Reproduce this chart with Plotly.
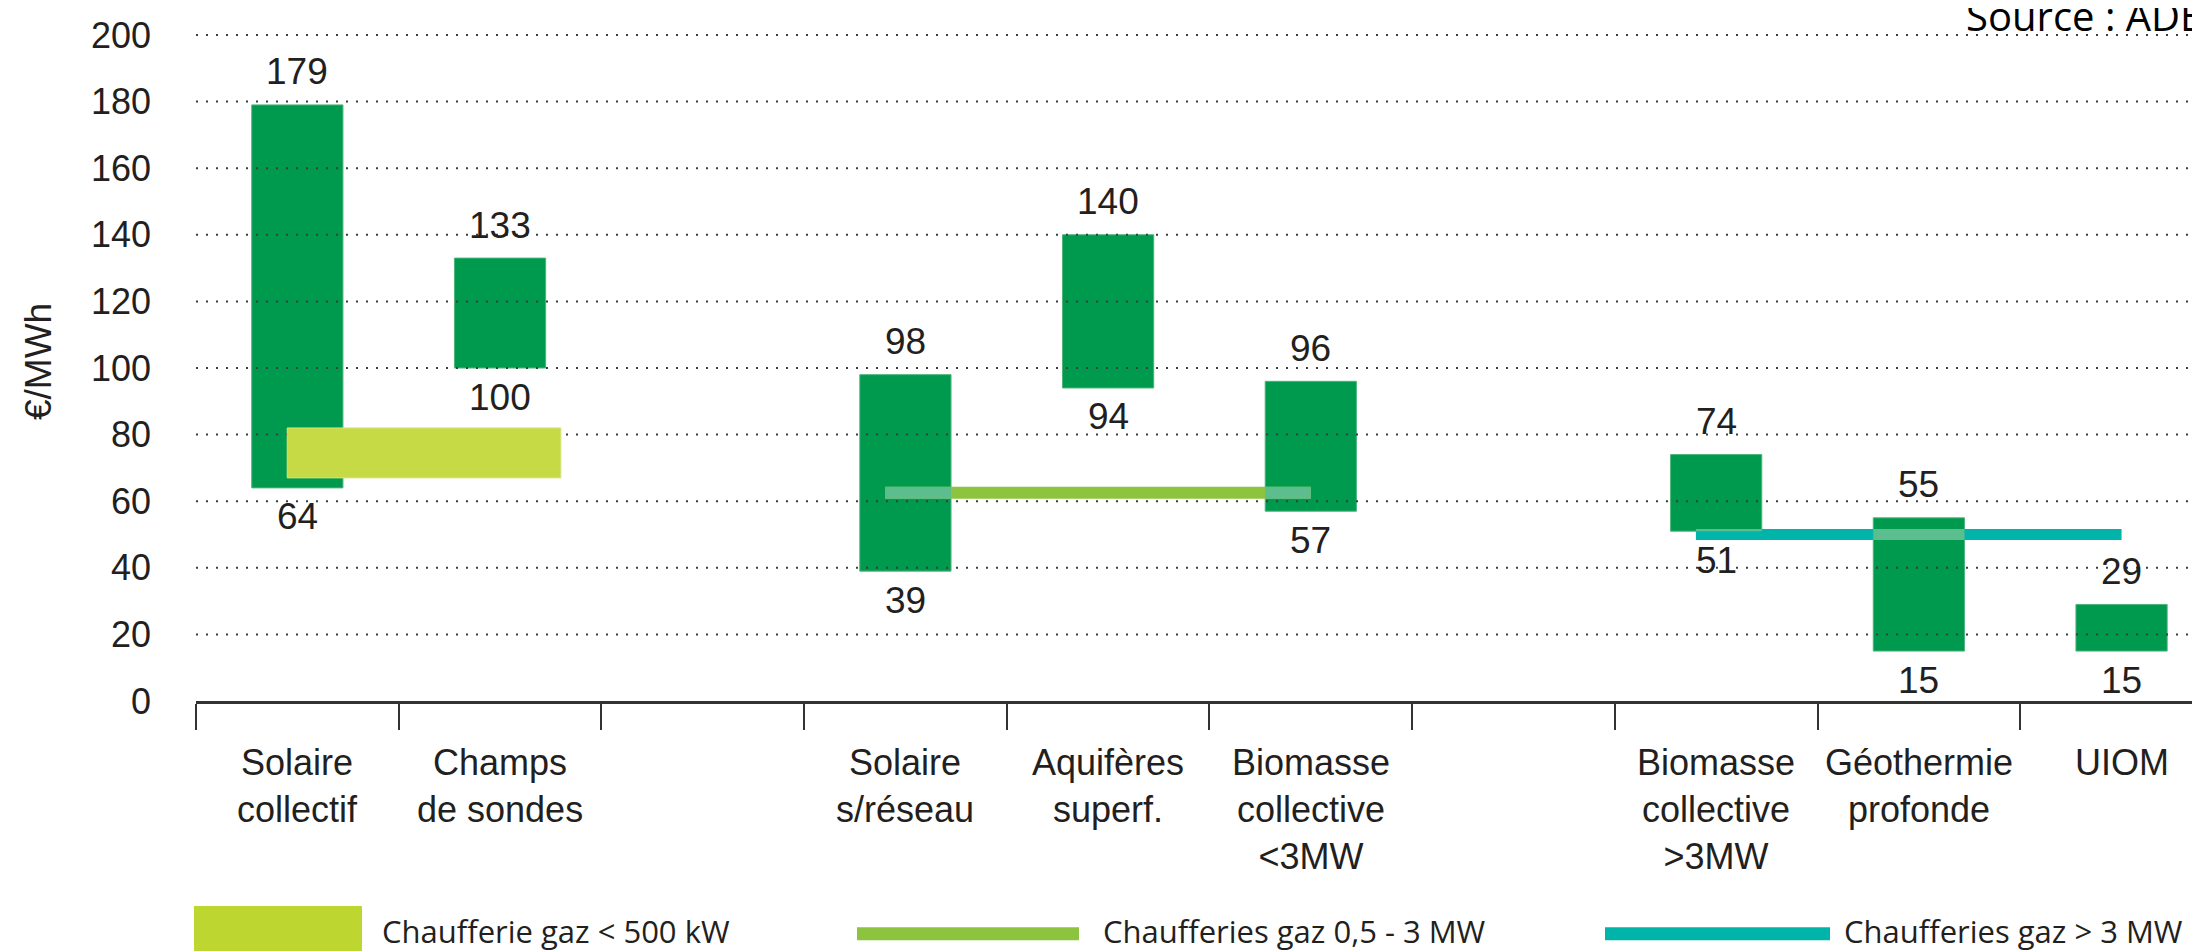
import plotly.graph_objects as go

# ---------------- data ----------------
categories = ["Solaire<br>collectif", "Champs<br>de sondes", "",
              "Solaire<br>s/réseau", "Aquifères<br>superf.", "Biomasse<br>collective<br>&lt;3MW",
              "", "Biomasse<br>collective<br>&gt;3MW", "Géothermie<br>profonde", "UIOM"]
cost_low = [64, 100, None, 39, 94, 57, None, 51, 15, 15]
cost_high = [179, 133, None, 98, 140, 96, None, 74, 55, 29]

gas_small_name = "Chaufferie gaz &lt; 500 kW"
gas_small_x = [-0.05, 1.3]
gas_small_y = [67, 82]

gas_mid_name = "Chaufferies gaz 0,5 - 3 MW"
gas_mid_x = [2.9, 5.0]
gas_mid_y = 62.5

gas_big_name = "Chaufferies gaz &gt; 3 MW"
gas_big_x = [6.9, 9.0]
gas_big_y = 50

y_ticks = [0, 20, 40, 60, 80, 100, 120, 140, 160, 180, 200]
y_title = "€/MWh"
source_text = "Source : ADEME"

# ---------------- style ----------------
W, H = 2200, 951
BODY = 8                      # default page margin of the html body
ML, MR, MT, MB = 188, 8, 17, 258
Y_RANGE = [0, 203]
X_RANGE = [-0.5, 9.387]
PLOT_W = W - ML - MR
PLOT_H = H - MT - MB
PX_PER_UNIT = PLOT_H / (Y_RANGE[1] - Y_RANGE[0])

BAR_COLOR = "#009A4E"
BAR_WIDTH = 0.45
SMALL_COLOR = "#C6DA45"
SMALL_LEG_COLOR = "#BED630"
MID_COLOR = "#8CC43F"
BIG_COLOR = "#00B4AA"
TEXT_COLOR = "#231F20"
GRID_COLOR = "#3d3d3d"
MID_PX, BIG_PX = 12, 11
OVERLAY_ALPHA = 0.36
CHART_FONT = "Liberation Sans, Arial, sans-serif"
LEG_FONT = "Open Sans, Lato, sans-serif"


def mix_white(hex_color, a):
    h = hex_color.lstrip("#")
    r, g, b = (int(h[i:i + 2], 16) for i in (0, 2, 4))
    r, g, b = (round(c + (255 - c) * a) for c in (r, g, b))
    return f"rgb({r},{g},{b})"


def px_x(px):
    return (px - BODY - ML) / PLOT_W


def px_y(py):
    return (H - MB - (py - BODY)) / PLOT_H


OVERLAY_COLOR = mix_white(BAR_COLOR, OVERLAY_ALPHA)

idx = [i for i, v in enumerate(cost_low) if v is not None]
lows = [cost_low[i] for i in idx]
highs = [cost_high[i] for i in idx]

fig = go.Figure()

# ranges (bars)
fig.add_trace(go.Bar(
    x=idx, y=[h - l for h, l in zip(highs, lows)], base=lows, width=BAR_WIDTH,
    marker=dict(color=BAR_COLOR, line=dict(color="#4CB47A", width=1)),
    showlegend=False, hoverinfo="skip"))

# dotted grid lines (drawn above the bars, as in the original)
gx, gy = [], []
for t in y_ticks:
    if t == 0:
        continue
    gx += [X_RANGE[0], X_RANGE[1], None]
    gy += [t, t, None]
fig.add_trace(go.Scatter(x=gx, y=gy, mode="lines",
                         line=dict(color=GRID_COLOR, width=2, dash="2px,8px"),
                         showlegend=False, hoverinfo="skip"))

# small gas boiler band
x0, x1 = gas_small_x
y0, y1 = gas_small_y
fig.add_trace(go.Scatter(x=[x0, x1, x1, x0, x0], y=[y0, y0, y1, y1, y0], mode="lines",
                         fill="toself", fillcolor=SMALL_COLOR,
                         line=dict(color="#D5E47A", width=1),
                         showlegend=False, hoverinfo="skip"))

# gas reference lines
for lx, ly, lw, col in [(gas_mid_x, gas_mid_y, MID_PX, MID_COLOR),
                        (gas_big_x, gas_big_y, BIG_PX, BIG_COLOR)]:
    fig.add_trace(go.Scatter(x=lx, y=[ly, ly], mode="lines",
                             line=dict(color=col, width=lw),
                             showlegend=False, hoverinfo="skip"))
    half = lw / 2 / PX_PER_UNIT
    for xi, lo, hi in zip(idx, lows, highs):
        ox0 = max(lx[0], xi - BAR_WIDTH / 2)
        ox1 = min(lx[1], xi + BAR_WIDTH / 2)
        oy0 = max(ly - half, lo)
        oy1 = min(ly + half, hi)
        if ox1 > ox0 and oy1 > oy0:
            fig.add_trace(go.Scatter(x=[ox0, ox1, ox1, ox0, ox0],
                                     y=[oy0, oy0, oy1, oy1, oy0], mode="lines",
                                     fill="toself", fillcolor=OVERLAY_COLOR,
                                     line=dict(color=OVERLAY_COLOR, width=0),
                                     showlegend=False, hoverinfo="skip"))

# value labels
for xi, lo, hi in zip(idx, lows, highs):
    fig.add_annotation(x=xi, y=hi, xref="x", yref="y", text=str(hi), showarrow=False,
                       yanchor="middle", yshift=33,
                       font=dict(family=CHART_FONT, size=37, color=TEXT_COLOR))
    fig.add_annotation(x=xi, y=lo, xref="x", yref="y", text=str(lo), showarrow=False,
                       yanchor="middle", yshift=-29,
                       font=dict(family=CHART_FONT, size=37, color=TEXT_COLOR))

# category labels
for i, c in enumerate(categories):
    if c:
        fig.add_annotation(x=i, xref="x", y=0, yref="paper", yanchor="top", yshift=-39,
                           text=c, showarrow=False, align="center",
                           font=dict(family=CHART_FONT, size=36, color=TEXT_COLOR))

# y title
fig.add_annotation(x=px_x(38), xref="paper", y=px_y(362), yref="paper",
                   text=y_title, textangle=-90, showarrow=False, xanchor="center", yanchor="middle",
                   font=dict(family=CHART_FONT, size=37, color=TEXT_COLOR))

# source
fig.add_annotation(x=px_x(1964), xref="paper", y=1, yref="paper",
                   xanchor="left", yanchor="bottom", yshift=-20,
                   text=source_text, showarrow=False,
                   font=dict(family=LEG_FONT, size=40, color="#000000"))

# custom legend
fig.add_shape(type="rect", xref="paper", yref="paper",
              x0=px_x(194), x1=px_x(362), y0=px_y(906), y1=px_y(970),
              fillcolor=SMALL_LEG_COLOR, line=dict(width=0))
fig.add_shape(type="line", xref="paper", yref="paper",
              x0=px_x(857), x1=px_x(1079), y0=px_y(933.7), y1=px_y(933.7),
              line=dict(color=MID_COLOR, width=13))
fig.add_shape(type="line", xref="paper", yref="paper",
              x0=px_x(1605), x1=px_x(1830), y0=px_y(933.7), y1=px_y(933.7),
              line=dict(color=BIG_COLOR, width=13))
for lx, txt in [(380, gas_small_name), (1101, gas_mid_name), (1842, gas_big_name)]:
    fig.add_annotation(x=px_x(lx), xref="paper", y=px_y(931), yref="paper",
                       xanchor="left", yanchor="middle", text=txt, showarrow=False,
                       font=dict(family=LEG_FONT, size=31, color=TEXT_COLOR))

fig.update_layout(
    width=W, height=H,
    margin=dict(l=ML, r=MR, t=MT, b=MB, pad=0),
    plot_bgcolor="white", paper_bgcolor="white",
    barmode="overlay", showlegend=False, hovermode=False,
    xaxis=dict(range=X_RANGE, tickvals=[i - 0.5 for i in range(len(categories))],
               showticklabels=False, ticks="outside", ticklen=26, tickwidth=2,
               tickcolor="#333333", showline=True, linecolor="#333333", linewidth=2.5,
               showgrid=False, zeroline=False, fixedrange=True),
    yaxis=dict(range=Y_RANGE, tickvals=y_ticks, ticks="", showgrid=False, zeroline=False,
               showline=False, ticklabelstandoff=44,
               tickfont=dict(family=CHART_FONT, size=36, color=TEXT_COLOR), fixedrange=True),
)

fig.write_html("out.html")
